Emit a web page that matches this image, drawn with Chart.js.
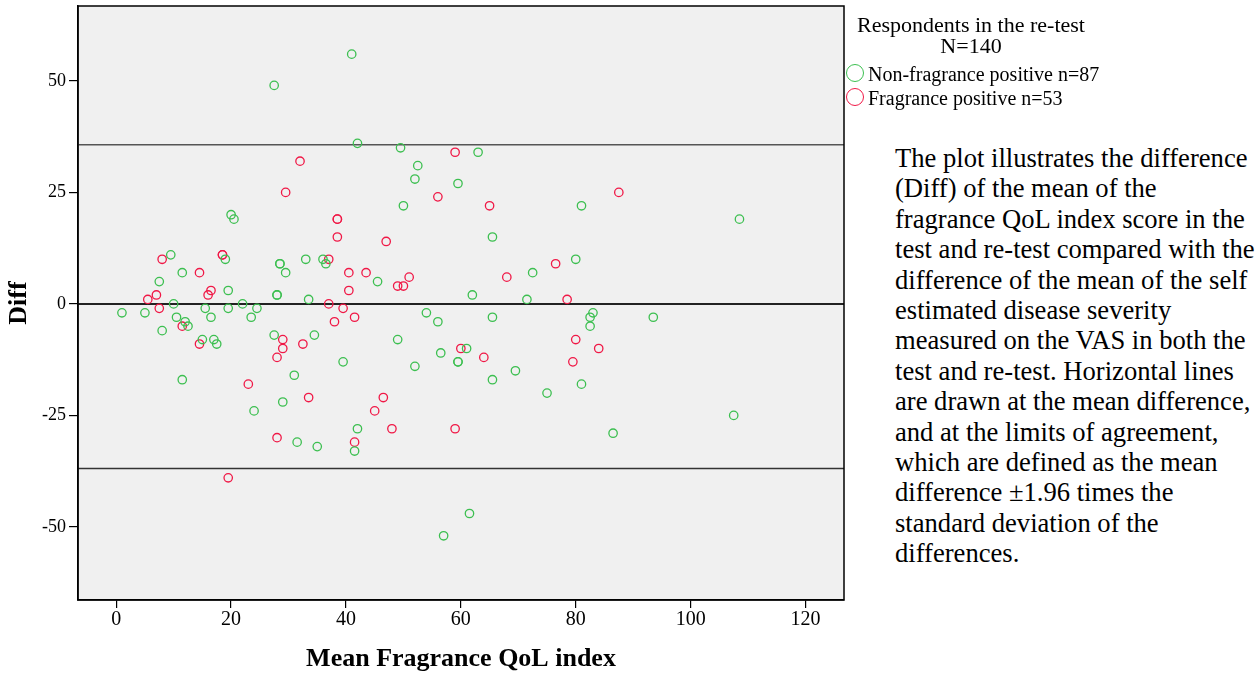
<!doctype html>
<html lang="en">
<head>
<meta charset="UTF-8" />
<title>Bland-Altman plot: Diff vs Mean Fragrance QoL index</title>
<script src="https://cdn.jsdelivr.net/npm/chart.js"></script>
<style>
  body { margin: 0; background: #fff; font-family: 'Liberation Serif', 'Times New Roman', serif; }
  #wrap { position: relative; width: 1257px; height: 677px; overflow: hidden; }
  #c { position: absolute; left: 0; top: 0; }
  .legend { position: absolute; left: 845px; top: 14px; width: 260px; color: #000; }
  .legend .title { text-align: center; font-size: 22px; line-height: 21px; width: 252px; }
  .legend .item { position: relative; height: 24px; line-height: 24px; padding-left: 23px; white-space: nowrap; font-size: 20px; }
  .legend .dot { position: absolute; left: 1px; top: 2px; width: 18px; height: 18px; border-radius: 50%; border: 1.5px solid; box-sizing: border-box; }
  .note { position: absolute; left: 895px; top: 143px; font-size: 26.6px; line-height: 30.4px; color: #000; white-space: nowrap; }
</style>
</head>
<body>
<div id="wrap">
  <canvas id="c" width="850" height="677"></canvas>
  <div class="legend">
    <div class="title">Respondents in the re-test<br>N=140</div>
    <div class="item" style="margin-top:6px"><span class="dot" style="border-color:#3cbf50"></span>Non-fragrance positive n=87</div>
    <div class="item"><span class="dot" style="border-color:#f01846"></span>Fragrance positive n=53</div>
  </div>
  <div class="note">The plot illustrates the difference<br>(Diff) of the mean of the<br>fragrance QoL index score in the<br>test and re-test compared with the<br>difference of the mean of the self<br>estimated disease severity<br>measured on the VAS in both the<br>test and re-test. Horizontal lines<br>are drawn at the mean difference,<br>and at the limits of agreement,<br>which are defined as the mean<br>difference ±1.96 times the<br>standard deviation of the<br>differences.</div>
</div>
<script>
// non-fragrance positive respondents: [mean QoL index, diff]
const nonFragrance = [
  [27.5, 49], [41, 56], [42, 36], [49.5, 35], [63, 34], [52.5, 31], [52, 28], [59.5, 27],
  [50, 22], [81, 22], [20, 20], [20.5, 19], [9.5, 11], [19, 10], [28.5, 9], [28.5, 9],
  [29.5, 7], [33, 10], [36, 10], [36.5, 9], [11.5, 7], [7.5, 5], [19.5, 3], [28, 2], [28, 2],
  [33.5, 1], [10, 0], [22, 0], [1, -2], [5, -2], [15.5, -1], [19.5, -1], [24.5, -1],
  [10.5, -3], [16.5, -3], [23.5, -3], [12, -4], [12.5, -5], [8, -6], [15, -8], [17, -8],
  [17.5, -9], [27.5, -7], [34.5, -7], [11.5, -17], [31, -16], [29, -22], [24, -24],
  [31.5, -31], [35, -32], [65.5, 15], [45.5, 5], [62, 2], [72.5, 7], [80, 10], [71.5, 1],
  [54, -2], [56, -4], [65.5, -3], [82.5, -3], [83, -2], [82.5, -5], [93.5, -3], [108.5, 19],
  [49, -8], [61, -10], [56.5, -11], [39.5, -13], [59.5, -13], [59.5, -13], [52, -14],
  [69.5, -15], [65.5, -17], [81, -18], [75, -20], [42, -28], [41.5, -33], [61.5, -47],
  [57, -52], [107.5, -25], [86.5, -29]
];
// fragrance positive respondents
const fragrance = [
  [32, 32], [29.5, 25], [59, 34], [56, 24], [65, 22], [87.5, 25], [38.5, 19], [38.5, 19],
  [38.5, 15], [8, 10], [18.5, 11], [18.5, 11], [37, 10], [14.5, 7], [16.5, 3], [16, 2],
  [7, 2], [5.5, 1], [37, 0], [7.5, -1], [11.5, -5], [38, -4], [14.5, -9], [29, -8],
  [29, -10], [28, -12], [32.5, -9], [23, -18], [33.5, -21], [28, -30], [19.5, -39],
  [47, 14], [40.5, 7], [43.5, 7], [49, 4], [50, 4], [51, 6], [40.5, 3], [68, 6], [76.5, 9],
  [78.5, 1], [39.5, -1], [41.5, -3], [84, -10], [60, -10], [64, -12], [80, -8], [79.5, -13],
  [46.5, -21], [45, -24], [48, -28], [59, -28], [41.5, -31]
];
const meanDiff = 0;
const upperLimit = 35.7;
const lowerLimit = -36.9;
const xTicks = [0, 20, 40, 60, 80, 100, 120];
const yTicks = [-50, -25, 0, 25, 50];
const xMin = -6.65, xMax = 126.7;
const yMin = -66.4, yMax = 66.8;

const serif = "'Liberation Serif', 'Times New Roman', serif";
const toPts = (arr) => arr.map(([x, y]) => ({ x, y }));
const hLine = (v) => [{ x: xMin, y: v }, { x: xMax, y: v }];

const plotBox = {
  id: 'plotBox',
  beforeDraw(chart) {
    const { ctx, chartArea: a } = chart;
    ctx.save();
    ctx.fillStyle = '#f0f0f0';
    ctx.fillRect(a.left, a.top, a.right - a.left, a.bottom - a.top);
    ctx.restore();
  },
  afterDraw(chart) {
    const { ctx, chartArea: a } = chart;
    ctx.save();
    ctx.strokeStyle = '#000';
    ctx.lineWidth = 1.5;
    ctx.strokeRect(a.left, a.top, a.right - a.left, a.bottom - a.top);
    ctx.restore();
  }
};

new Chart(document.getElementById('c'), {
  type: 'scatter',
  data: {
    datasets: [
      { label: 'Non-fragrance positive n=87', data: toPts(nonFragrance), borderColor: '#3cbf50',
        backgroundColor: 'transparent', pointRadius: 4.2, pointBorderWidth: 1.3, order: 0 },
      { label: 'Fragrance positive n=53', data: toPts(fragrance), borderColor: '#f01846',
        backgroundColor: 'transparent', pointRadius: 4.2, pointBorderWidth: 1.3, order: 0 },
      { type: 'line', label: 'upper', data: hLine(upperLimit), borderColor: '#555', borderWidth: 1.5,
        pointRadius: 0, order: 1 },
      { type: 'line', label: 'mean', data: hLine(meanDiff), borderColor: '#222', borderWidth: 2,
        pointRadius: 0, order: 1 },
      { type: 'line', label: 'lower', data: hLine(lowerLimit), borderColor: '#333', borderWidth: 1.5,
        pointRadius: 0, order: 1 }
    ]
  },
  options: {
    responsive: false,
    animation: false,
    layout: { padding: { top: 6, right: 6, left: 0, bottom: 0 } },
    plugins: { legend: { display: false }, tooltip: { enabled: false } },
    scales: {
      x: {
        type: 'linear', min: xMin, max: xMax,
        afterBuildTicks: (s) => { s.ticks = xTicks.map((v) => ({ value: v })); },
        afterFit: (s) => { s.height = 77; s.paddingLeft = 0; s.paddingRight = 0; },
        grid: { drawOnChartArea: false, drawTicks: true, tickLength: 8, color: '#000', lineWidth: 1.2 },
        border: { display: true, color: '#000', width: 1.5 },
        ticks: { color: '#000', font: { family: serif, size: 20 }, padding: 0, maxRotation: 0 },
        title: { display: true, text: 'Mean Fragrance QoL index', color: '#000',
          font: { family: serif, size: 26, weight: 'bold' }, padding: { top: 0, bottom: 2 } }
      },
      y: {
        type: 'linear', min: yMin, max: yMax,
        afterBuildTicks: (s) => { s.ticks = yTicks.map((v) => ({ value: v })); },
        afterFit: (s) => { s.width = 78; s.paddingTop = 0; s.paddingBottom = 0; },
        grid: { drawOnChartArea: false, drawTicks: true, tickLength: 9, color: '#000', lineWidth: 1.2 },
        border: { display: true, color: '#000', width: 1.5 },
        ticks: { color: '#000', font: { family: serif, size: 18 }, padding: 3 },
        title: { display: true, text: 'Diff', color: '#000',
          font: { family: serif, size: 26, weight: 'bold' }, padding: { top: 4, bottom: 0 } }
      }
    }
  },
  plugins: [plotBox]
});
</script>
</body>
</html>
